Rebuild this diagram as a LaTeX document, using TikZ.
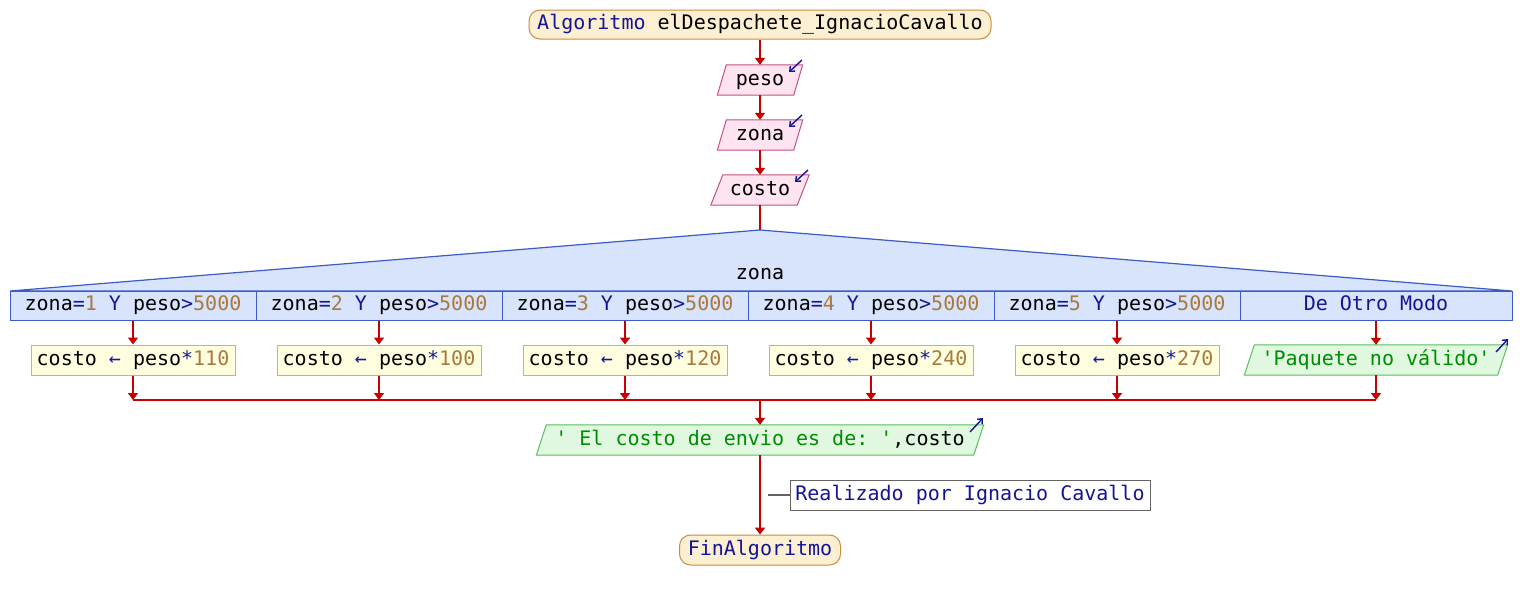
\documentclass[tikz,border=0pt]{standalone}
\usepackage{fontspec}
\setmonofont{DejaVu Sans Mono}
\usetikzlibrary{arrows.meta,backgrounds}
\definecolor{kwc}{RGB}{20,20,150}
\definecolor{numc}{RGB}{170,120,60}
\definecolor{strc}{RGB}{0,140,0}
\definecolor{arrc}{RGB}{200,0,0}
\definecolor{termfill}{RGB}{253,240,210}
\definecolor{termdraw}{RGB}{200,140,60}
\definecolor{inpfill}{RGB}{253,228,240}
\definecolor{inpdraw}{RGB}{200,80,130}
\definecolor{asgfill}{RGB}{255,255,224}
\definecolor{asgdraw}{RGB}{200,190,60}
\definecolor{outfill}{RGB}{224,248,224}
\definecolor{outdraw}{RGB}{90,190,90}
\definecolor{swfill}{RGB}{215,228,252}
\definecolor{swdraw}{RGB}{60,90,200}
\definecolor{cmtdraw}{RGB}{100,100,100}
\newcommand{\kw}[1]{\textcolor{kwc}{#1}}
\newcommand{\nm}[1]{\textcolor{numc}{#1}}
\newcommand{\st}[1]{\textcolor{strc}{#1}}
\tikzset{
  base/.style={inner sep=0pt, text height=14pt, text depth=4pt, minimum height=30},
  term/.style={base, draw=termdraw, fill=termfill, line width=1pt, rounded corners=11pt},
  inpnode/.style={base},
  inpshape/.style={draw=inpdraw, fill=inpfill, line width=1pt},
  outshape/.style={draw=outdraw, fill=outfill, line width=1pt},
  asg/.style={base, draw=asgdraw, fill=asgfill, line width=1pt},
  cell/.style={base, draw=swdraw, fill=swfill, line width=1pt, minimum height=29},
  swshape/.style={draw=swdraw, fill=swfill, line width=1.2pt},
  cmt/.style={base, draw=cmtdraw, fill=white, line width=1pt, text=kwc},
  flow/.style={draw=arrc, line width=1.8pt, -{Triangle[length=7pt,width=10pt]}},
  flowline/.style={draw=arrc, line width=1.8pt},
  ioarr/.style={draw=kwc, line width=1.4pt, -{Straight Barb[length=4pt,width=7pt]}},
}
\newcommand{\para}[3]{% node name, slant, style
  \begin{scope}[on background layer]
    \path[#3] ([xshift=-#2/2]#1.south west) -- ([xshift=#2/2]#1.north west) -- ([xshift=#2/2]#1.north east) -- ([xshift=-#2/2]#1.south east) -- cycle;
  \end{scope}}
\begin{document}
\begin{tikzpicture}[x=1pt,y=-1pt,font=\ttfamily\fontsize{20}{24}\selectfont]
\useasboundingbox (0,0) rectangle (1520,600);

% start
\node[term, minimum width=462, minimum height=29] (start) at (760,24.5) {\kw{Algoritmo} elDespachete\_IgnacioCavallo};

% inputs
\node[inpnode, minimum width=76] (peso) at (760,80) {peso};
\para{peso}{9}{inpshape}
\node[inpnode, minimum width=76] (zona) at (760,135) {zona};
\para{zona}{9}{inpshape}
\node[inpnode, minimum width=86] (costo) at (760,190) {costo};
\para{costo}{12}{inpshape}
\draw[ioarr] (802,60) -- (789,72);
\draw[ioarr] (802,115) -- (789,127);
\draw[ioarr] (808,170) -- (795,182);

% switch
\coordinate (apex) at (760,230);
\path[swshape] (10,291) -- (apex) -- (1512,291) -- cycle;
\node[inner sep=0pt] (swl) at (760,274) {zona};
\node[cell, minimum width=246] (c1) at (133,305.5) {zona\kw{=}\nm{1} \kw{Y} peso\kw{>}\nm{5000}};
\node[cell, minimum width=246] (c2) at (379,305.5) {zona\kw{=}\nm{2} \kw{Y} peso\kw{>}\nm{5000}};
\node[cell, minimum width=246] (c3) at (625,305.5) {zona\kw{=}\nm{3} \kw{Y} peso\kw{>}\nm{5000}};
\node[cell, minimum width=246] (c4) at (871,305.5) {zona\kw{=}\nm{4} \kw{Y} peso\kw{>}\nm{5000}};
\node[cell, minimum width=246] (c5) at (1117,305.5) {zona\kw{=}\nm{5} \kw{Y} peso\kw{>}\nm{5000}};
\node[cell, minimum width=272] (c6) at (1376,305.5) {\kw{De Otro Modo}};

% branches
\node[asg, minimum width=204] (a1) at (133,360) {costo \kw{←} peso\kw{*}\nm{110}};
\node[asg, minimum width=204] (a2) at (379,360) {costo \kw{←} peso\kw{*}\nm{100}};
\node[asg, minimum width=204] (a3) at (625,360) {costo \kw{←} peso\kw{*}\nm{120}};
\node[asg, minimum width=204] (a4) at (871,360) {costo \kw{←} peso\kw{*}\nm{240}};
\node[asg, minimum width=204] (a5) at (1117,360) {costo \kw{←} peso\kw{*}\nm{270}};
\node[inpnode, minimum width=253] (a6) at (1376,360) {\st{'Paquete no válido'}};
\para{a6}{10}{outshape}
\draw[ioarr] (1496,352) -- (1508,339);

\foreach \i in {1,...,6} {
  \draw[flow] (c\i.south) -- (a\i.north);
  \draw[flow] (a\i.south) -- (a\i.south |- 0,400);
}
\coordinate (ml) at (133,400);
\coordinate (mr) at (1376,400);
\coordinate (mc) at (760,400);
\draw[flowline] (ml) -- (mr);

% output
\node[inpnode, minimum width=437] (outp) at (760,440) {\st{' El costo de envio es de: '},costo};
\para{outp}{10}{outshape}
\draw[ioarr] (970,432) -- (983,418);

% end
\node[term, minimum width=161] (fin) at (760,550) {\kw{FinAlgoritmo}};

% comment
\node[cmt, minimum width=360] (cm) at (970,495) {Realizado por Ignacio Cavallo};
\coordinate (cmx) at (768,495);
\draw[cmtdraw, line width=1.2pt] (cm.west) -- (cmx);

% connectors
\draw[flow] (start.south) -- (peso.north);
\draw[flow] (peso.south) -- (zona.north);
\draw[flow] (zona.south) -- (costo.north);
\draw[flowline] (costo.south) -- (apex);
\draw[flow] (mc) -- (outp.north);
\draw[flow] (outp.south) -- (fin.north);
\end{tikzpicture}
\end{document}
